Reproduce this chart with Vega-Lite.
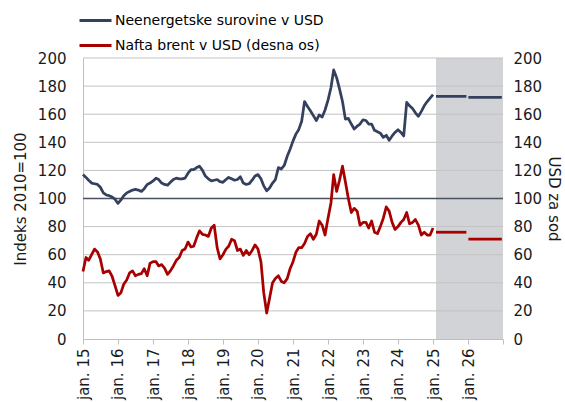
{
  "$schema": "https://vega.github.io/schema/vega-lite/v6.json",
  "width": 420,
  "height": 281,
  "autosize": {"type": "none"},
  "padding": {"left": 83, "top": 58, "right": 62, "bottom": 63},
  "background": "white",
  "config": {
    "view": {"stroke": null},
    "font": "DejaVu Sans",
    "axis": {"grid": false, "labelFont": "DejaVu Sans", "labelFontSize": 15, "labelColor": "#1a1a1a", "titleFont": "DejaVu Sans", "titleFontSize": 15, "titleFontWeight": "normal", "titleColor": "#1a1a1a"}
  },
  "datasets": {
    "main": [
      {"d": "2015-01-01", "ne": 117, "oil": 48, "seg": "h"},
      {"d": "2015-02-01", "ne": 115, "oil": 58, "seg": "h"},
      {"d": "2015-03-01", "ne": 113, "oil": 56, "seg": "h"},
      {"d": "2015-04-01", "ne": 111, "oil": 60, "seg": "h"},
      {"d": "2015-05-01", "ne": 110.5, "oil": 64, "seg": "h"},
      {"d": "2015-06-01", "ne": 110, "oil": 62, "seg": "h"},
      {"d": "2015-07-01", "ne": 108, "oil": 57, "seg": "h"},
      {"d": "2015-08-01", "ne": 104, "oil": 47, "seg": "h"},
      {"d": "2015-09-01", "ne": 102.5, "oil": 48, "seg": "h"},
      {"d": "2015-10-01", "ne": 102, "oil": 48.5, "seg": "h"},
      {"d": "2015-11-01", "ne": 101, "oil": 44.5, "seg": "h"},
      {"d": "2015-12-01", "ne": 99.5, "oil": 38, "seg": "h"},
      {"d": "2016-01-01", "ne": 96.5, "oil": 31, "seg": "h"},
      {"d": "2016-02-01", "ne": 99, "oil": 33, "seg": "h"},
      {"d": "2016-03-01", "ne": 102, "oil": 39, "seg": "h"},
      {"d": "2016-04-01", "ne": 104, "oil": 42, "seg": "h"},
      {"d": "2016-05-01", "ne": 105, "oil": 47, "seg": "h"},
      {"d": "2016-06-01", "ne": 106, "oil": 48.5, "seg": "h"},
      {"d": "2016-07-01", "ne": 106.5, "oil": 45, "seg": "h"},
      {"d": "2016-08-01", "ne": 106, "oil": 46, "seg": "h"},
      {"d": "2016-09-01", "ne": 105, "oil": 46.5, "seg": "h"},
      {"d": "2016-10-01", "ne": 107, "oil": 50, "seg": "h"},
      {"d": "2016-11-01", "ne": 110, "oil": 45, "seg": "h"},
      {"d": "2016-12-01", "ne": 111, "oil": 54, "seg": "h"},
      {"d": "2017-01-01", "ne": 112.5, "oil": 55, "seg": "h"},
      {"d": "2017-02-01", "ne": 114.5, "oil": 55, "seg": "h"},
      {"d": "2017-03-01", "ne": 113.5, "oil": 52, "seg": "h"},
      {"d": "2017-04-01", "ne": 111, "oil": 53, "seg": "h"},
      {"d": "2017-05-01", "ne": 110, "oil": 50.5, "seg": "h"},
      {"d": "2017-06-01", "ne": 109.5, "oil": 46, "seg": "h"},
      {"d": "2017-07-01", "ne": 111.5, "oil": 48.5, "seg": "h"},
      {"d": "2017-08-01", "ne": 113.5, "oil": 52, "seg": "h"},
      {"d": "2017-09-01", "ne": 114.5, "oil": 56, "seg": "h"},
      {"d": "2017-10-01", "ne": 114, "oil": 58, "seg": "h"},
      {"d": "2017-11-01", "ne": 114, "oil": 63, "seg": "h"},
      {"d": "2017-12-01", "ne": 114.5, "oil": 64, "seg": "h"},
      {"d": "2018-01-01", "ne": 118, "oil": 69, "seg": "h"},
      {"d": "2018-02-01", "ne": 120.5, "oil": 65.5, "seg": "h"},
      {"d": "2018-03-01", "ne": 120.5, "oil": 66, "seg": "h"},
      {"d": "2018-04-01", "ne": 122, "oil": 72, "seg": "h"},
      {"d": "2018-05-01", "ne": 123, "oil": 77, "seg": "h"},
      {"d": "2018-06-01", "ne": 120, "oil": 74.5, "seg": "h"},
      {"d": "2018-07-01", "ne": 116, "oil": 74, "seg": "h"},
      {"d": "2018-08-01", "ne": 114, "oil": 73, "seg": "h"},
      {"d": "2018-09-01", "ne": 112.5, "oil": 79, "seg": "h"},
      {"d": "2018-10-01", "ne": 113, "oil": 81, "seg": "h"},
      {"d": "2018-11-01", "ne": 113.5, "oil": 65, "seg": "h"},
      {"d": "2018-12-01", "ne": 112, "oil": 57, "seg": "h"},
      {"d": "2019-01-01", "ne": 111.5, "oil": 60, "seg": "h"},
      {"d": "2019-02-01", "ne": 113.5, "oil": 64, "seg": "h"},
      {"d": "2019-03-01", "ne": 115, "oil": 66, "seg": "h"},
      {"d": "2019-04-01", "ne": 114, "oil": 71, "seg": "h"},
      {"d": "2019-05-01", "ne": 113, "oil": 70, "seg": "h"},
      {"d": "2019-06-01", "ne": 113.5, "oil": 63, "seg": "h"},
      {"d": "2019-07-01", "ne": 115.5, "oil": 64, "seg": "h"},
      {"d": "2019-08-01", "ne": 111, "oil": 59.5, "seg": "h"},
      {"d": "2019-09-01", "ne": 110, "oil": 63, "seg": "h"},
      {"d": "2019-10-01", "ne": 110.5, "oil": 60, "seg": "h"},
      {"d": "2019-11-01", "ne": 113, "oil": 63, "seg": "h"},
      {"d": "2019-12-01", "ne": 116, "oil": 67, "seg": "h"},
      {"d": "2020-01-01", "ne": 117, "oil": 64, "seg": "h"},
      {"d": "2020-02-01", "ne": 114, "oil": 55, "seg": "h"},
      {"d": "2020-03-01", "ne": 109, "oil": 33, "seg": "h"},
      {"d": "2020-04-01", "ne": 105.5, "oil": 18.5, "seg": "h"},
      {"d": "2020-05-01", "ne": 107.5, "oil": 29, "seg": "h"},
      {"d": "2020-06-01", "ne": 111, "oil": 40, "seg": "h"},
      {"d": "2020-07-01", "ne": 113.5, "oil": 43, "seg": "h"},
      {"d": "2020-08-01", "ne": 122, "oil": 45, "seg": "h"},
      {"d": "2020-09-01", "ne": 121, "oil": 41, "seg": "h"},
      {"d": "2020-10-01", "ne": 123.5, "oil": 40, "seg": "h"},
      {"d": "2020-11-01", "ne": 130, "oil": 43, "seg": "h"},
      {"d": "2020-12-01", "ne": 135, "oil": 50, "seg": "h"},
      {"d": "2021-01-01", "ne": 141, "oil": 55, "seg": "h"},
      {"d": "2021-02-01", "ne": 146, "oil": 62, "seg": "h"},
      {"d": "2021-03-01", "ne": 149, "oil": 65, "seg": "h"},
      {"d": "2021-04-01", "ne": 155, "oil": 65, "seg": "h"},
      {"d": "2021-05-01", "ne": 169, "oil": 68, "seg": "h"},
      {"d": "2021-06-01", "ne": 165.5, "oil": 73, "seg": "h"},
      {"d": "2021-07-01", "ne": 162.5, "oil": 75, "seg": "h"},
      {"d": "2021-08-01", "ne": 159, "oil": 71, "seg": "h"},
      {"d": "2021-09-01", "ne": 155.5, "oil": 74.5, "seg": "h"},
      {"d": "2021-10-01", "ne": 159.5, "oil": 84, "seg": "h"},
      {"d": "2021-11-01", "ne": 158, "oil": 81, "seg": "h"},
      {"d": "2021-12-01", "ne": 163, "oil": 74, "seg": "h"},
      {"d": "2022-01-01", "ne": 170, "oil": 86, "seg": "h"},
      {"d": "2022-02-01", "ne": 179, "oil": 97, "seg": "h"},
      {"d": "2022-03-01", "ne": 191.5, "oil": 117, "seg": "h"},
      {"d": "2022-04-01", "ne": 186, "oil": 105, "seg": "h"},
      {"d": "2022-05-01", "ne": 178, "oil": 113, "seg": "h"},
      {"d": "2022-06-01", "ne": 169, "oil": 123, "seg": "h"},
      {"d": "2022-07-01", "ne": 156.5, "oil": 112, "seg": "h"},
      {"d": "2022-08-01", "ne": 157, "oil": 100, "seg": "h"},
      {"d": "2022-09-01", "ne": 153, "oil": 90, "seg": "h"},
      {"d": "2022-10-01", "ne": 149.5, "oil": 93, "seg": "h"},
      {"d": "2022-11-01", "ne": 151.5, "oil": 91, "seg": "h"},
      {"d": "2022-12-01", "ne": 153, "oil": 81, "seg": "h"},
      {"d": "2023-01-01", "ne": 156, "oil": 83, "seg": "h"},
      {"d": "2023-02-01", "ne": 155.5, "oil": 83, "seg": "h"},
      {"d": "2023-03-01", "ne": 153, "oil": 79, "seg": "h"},
      {"d": "2023-04-01", "ne": 153, "oil": 84, "seg": "h"},
      {"d": "2023-05-01", "ne": 148.5, "oil": 76, "seg": "h"},
      {"d": "2023-06-01", "ne": 147.5, "oil": 75, "seg": "h"},
      {"d": "2023-07-01", "ne": 146.5, "oil": 80, "seg": "h"},
      {"d": "2023-08-01", "ne": 143.5, "oil": 86, "seg": "h"},
      {"d": "2023-09-01", "ne": 145, "oil": 94, "seg": "h"},
      {"d": "2023-10-01", "ne": 141.5, "oil": 91, "seg": "h"},
      {"d": "2023-11-01", "ne": 144.5, "oil": 83, "seg": "h"},
      {"d": "2023-12-01", "ne": 147, "oil": 78, "seg": "h"},
      {"d": "2024-01-01", "ne": 149, "oil": 80, "seg": "h"},
      {"d": "2024-02-01", "ne": 147, "oil": 83, "seg": "h"},
      {"d": "2024-03-01", "ne": 144.5, "oil": 85, "seg": "h"},
      {"d": "2024-04-01", "ne": 168.5, "oil": 90, "seg": "h"},
      {"d": "2024-05-01", "ne": 166, "oil": 82, "seg": "h"},
      {"d": "2024-06-01", "ne": 164, "oil": 83, "seg": "h"},
      {"d": "2024-07-01", "ne": 161, "oil": 85, "seg": "h"},
      {"d": "2024-08-01", "ne": 158.5, "oil": 81, "seg": "h"},
      {"d": "2024-09-01", "ne": 162, "oil": 74, "seg": "h"},
      {"d": "2024-10-01", "ne": 166, "oil": 76, "seg": "h"},
      {"d": "2024-11-01", "ne": 169, "oil": 74, "seg": "h"},
      {"d": "2024-12-01", "ne": 171.5, "oil": 74, "seg": "h"},
      {"d": "2025-01-01", "ne": 174, "oil": 79, "seg": "h"},
      {"d": "2025-02-01", "ne": 172.7, "oil": 76, "seg": "f25"},
      {"d": "2025-12-15", "ne": 172.7, "oil": 76, "seg": "f25"},
      {"d": "2026-01-05", "ne": 172, "oil": 71, "seg": "f26"},
      {"d": "2026-12-20", "ne": 172, "oil": 71, "seg": "f26"}
    ],
    "grid": [{"v": 20}, {"v": 40}, {"v": 60}, {"v": 80}, {"v": 100}, {"v": 120}, {"v": 140}, {"v": 160}, {"v": 180}, {"v": 200}]
  },
  "layer": [
    {
      "layer": [
        {
          "data": {"values": [{}]},
          "mark": {"type": "rect", "color": "#d1d3d6"},
          "encoding": {
            "x": {
              "datum": {"year": 2025, "month": 2, "date": 1, "utc": true}, "type": "temporal",
              "scale": {"type": "utc", "domain": [{"year": 2015, "month": 1, "date": 1, "utc": true}, {"year": 2027, "month": 1, "date": 1, "utc": true}]},
              "axis": {
                "title": null,
                "tickCount": {"interval": "year", "step": 1},
                "labelExpr": "utcyear(datum.value) > 2026 ? '' : 'jan. ' + utcFormat(datum.value, '%y')",
                "labelAngle": -90, "labelPadding": 4, "labelFlush": false, "labelOverlap": false, "labelBound": false,
                "domainColor": "#bfbfbf", "domainWidth": 1, "tickColor": "#bfbfbf", "tickSize": 5, "ticks": true
              }
            },
            "x2": {"datum": {"year": 2027, "month": 1, "date": 1, "utc": true}}
          }
        },
        {
          "data": {"name": "grid"},
          "mark": {"type": "rule", "color": "#c3c3c3", "strokeWidth": 1},
          "encoding": {
            "y": {
              "field": "v", "type": "quantitative", "scale": {"domain": [0, 200]},
              "axis": {
                "orient": "left", "title": "Indeks 2010=100",
                "values": [0, 20, 40, 60, 80, 100, 120, 140, 160, 180, 200],
                "ticks": false, "tickSize": 0, "labelPadding": 17,
                "domainColor": "#bfbfbf", "domainWidth": 1, "titlePadding": 9
              }
            }
          }
        },
        {
          "data": {"values": [{}]},
          "mark": {"type": "rule", "color": "#4a5262", "strokeWidth": 1.5},
          "encoding": {
            "y": {
              "datum": 100, "type": "quantitative", "scale": {"domain": [0, 200]},
              "axis": {
                "orient": "left", "title": "Indeks 2010=100",
                "values": [0, 20, 40, 60, 80, 100, 120, 140, 160, 180, 200],
                "ticks": false, "tickSize": 0, "labelPadding": 17,
                "domainColor": "#bfbfbf", "domainWidth": 1, "titlePadding": 9
              }
            }
          }
        },
        {
          "data": {"name": "main"},
          "mark": {"type": "line", "strokeWidth": 2.75, "strokeJoin": "round"},
          "encoding": {
            "x": {
              "field": "d", "type": "temporal",
              "scale": {"type": "utc", "domain": [{"year": 2015, "month": 1, "date": 1, "utc": true}, {"year": 2027, "month": 1, "date": 1, "utc": true}]},
              "axis": {
                "title": null,
                "tickCount": {"interval": "year", "step": 1},
                "labelExpr": "utcyear(datum.value) > 2026 ? '' : 'jan. ' + utcFormat(datum.value, '%y')",
                "labelAngle": -90, "labelPadding": 4, "labelFlush": false, "labelOverlap": false, "labelBound": false,
                "domainColor": "#bfbfbf", "domainWidth": 1, "tickColor": "#bfbfbf", "tickSize": 5, "ticks": true
              }
            },
            "y": {
              "field": "ne", "type": "quantitative",
              "scale": {"domain": [0, 200]},
              "axis": {
                "orient": "left", "title": "Indeks 2010=100",
                "values": [0, 20, 40, 60, 80, 100, 120, 140, 160, 180, 200],
                "ticks": false, "tickSize": 0, "labelPadding": 17,
                "domainColor": "#bfbfbf", "domainWidth": 1, "titlePadding": 9
              }
            },
            "detail": {"field": "seg"},
            "color": {
              "datum": "Neenergetske surovine v USD", "type": "nominal",
              "scale": {"domain": ["Neenergetske surovine v USD", "Nafta brent v USD (desna os)"], "range": ["#34405e", "#a80000"]},
              "legend": {
                "title": null, "orient": "none", "legendX": -5, "legendY": -55,
                "symbolType": "stroke", "symbolSize": 1024, "symbolStrokeWidth": 3,
                "labelFont": "DejaVu Sans", "labelFontSize": 14, "labelColor": "#000000", "labelLimit": 0,
                "rowPadding": -4, "labelOffset": 2, "padding": 0
              }
            }
          }
        }
      ]
    },
    {
      "data": {"name": "main"},
      "mark": {"type": "line", "strokeWidth": 2.75, "strokeJoin": "round"},
      "encoding": {
        "x": {
          "field": "d", "type": "temporal",
          "scale": {"type": "utc", "domain": [{"year": 2015, "month": 1, "date": 1, "utc": true}, {"year": 2027, "month": 1, "date": 1, "utc": true}]},
          "axis": {
            "title": null,
            "tickCount": {"interval": "year", "step": 1},
            "labelExpr": "utcyear(datum.value) > 2026 ? '' : 'jan. ' + utcFormat(datum.value, '%y')",
            "labelAngle": -90, "labelPadding": 4, "labelFlush": false, "labelOverlap": false, "labelBound": false,
            "domainColor": "#bfbfbf", "domainWidth": 1, "tickColor": "#bfbfbf", "tickSize": 5, "ticks": true
          }
        },
        "y": {
          "field": "oil", "type": "quantitative",
          "scale": {"domain": [0, 200]},
          "axis": {
            "orient": "right", "title": "USD za sod",
            "values": [0, 20, 40, 60, 80, 100, 120, 140, 160, 180, 200],
            "ticks": false, "tickSize": 0, "domain": false, "labelPadding": 10, "titlePadding": 4
          }
        },
        "detail": {"field": "seg"},
        "color": {"datum": "Nafta brent v USD (desna os)", "type": "nominal"}
      }
    }
  ],
  "resolve": {"scale": {"y": "independent"}}
}
